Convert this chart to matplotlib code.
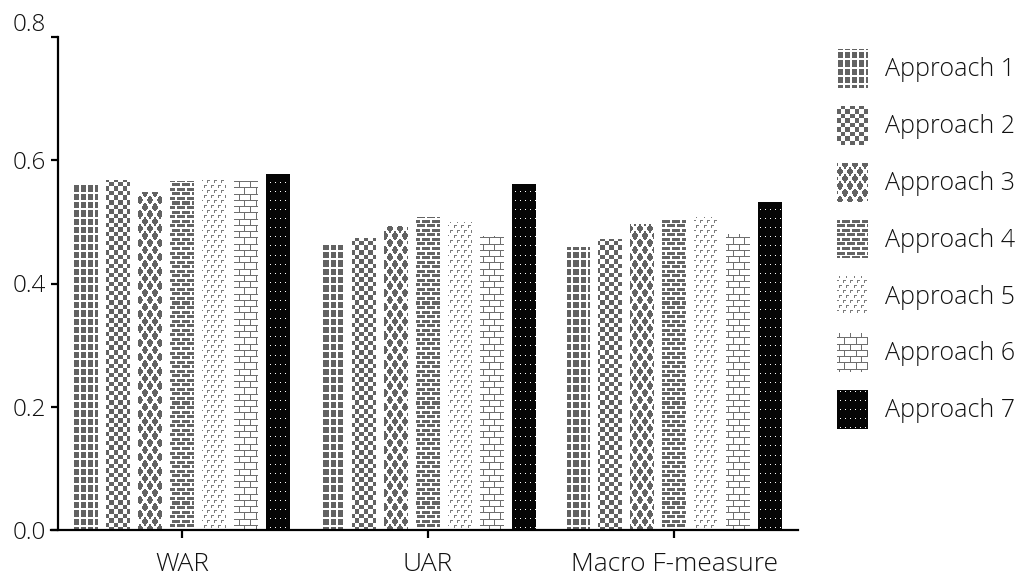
import numpy as np
import matplotlib
matplotlib.use("Agg")
import matplotlib.pyplot as plt
import matplotlib.hatch as mhatch
from matplotlib.path import Path

# data
metrics = ["WAR", "UAR", "Macro F-measure"]
approaches = ["Approach 1", "Approach 2", "Approach 3", "Approach 4",
              "Approach 5", "Approach 6", "Approach 7"]
war = [0.560, 0.568, 0.549, 0.566, 0.568, 0.566, 0.578]
uar = [0.463, 0.474, 0.493, 0.508, 0.500, 0.477, 0.561]
macro_f = [0.459, 0.472, 0.497, 0.506, 0.508, 0.480, 0.532]

# fill patterns: bitmap tiles of 100x100 px (one hatch unit at dpi 100)
N = 100
yy, xx = np.mgrid[0:N, 0:N] + 0.5


def tile_grid():
    return (xx % (N / 14) >= 2) & (yy % (N / 12) >= 2)


def tile_checker():
    cx = np.floor(xx / (N / 22))
    cy = np.floor(yy / (N / 22))
    return (cx + cy) % 2 == 0


def tile_diamond(r=0.7):
    X = xx / 5.0
    Y = yy / (N / 14)
    a, b = X + Y, X - Y
    da = np.abs((a + 1) % 2 - 1)
    db = np.abs((b + 1) % 2 - 1)
    return (da <= r) & (db <= r)


def tile_brick_small():
    p = N / 22
    row = np.floor(yy / p)
    v = yy % p
    u = (xx + (row % 2) * 5) % 10
    return (v >= 1.5) & (u >= 2)


def tile_steps():
    row = np.floor(yy / 5)
    v = yy % 5
    w = N / 14
    u = (xx + (row % 2) * w / 2) % w
    return ((v < 1) & (u < 3)) | ((u < 1) & (v < 3.5))


def tile_brick_outline():
    p = N / 16
    row = np.floor(yy / p)
    v = yy % p
    w = N / 9
    u = (xx + (row % 2) * w / 2) % w
    return (v < 1) | (u < 1)


def tile_dots():
    return (xx % 5 < 1) & (yy % (N / 11) < 1)


def mask_to_path(mask):
    verts, codes = [], []
    n = mask.shape[0]
    for r in range(n):
        d = np.diff(np.concatenate([[0], mask[r].astype(int), [0]]))
        starts = np.where(d == 1)[0]
        ends = np.where(d == -1)[0]
        y0, y1 = 1 - (r + 1) / n, 1 - r / n
        for s, e in zip(starts, ends):
            x0, x1 = s / n, e / n
            verts += [(x0, y0), (x1, y0), (x1, y1), (x0, y1), (x0, y0)]
            codes += [Path.MOVETO, Path.LINETO, Path.LINETO, Path.LINETO,
                      Path.CLOSEPOLY]
    return Path(verts, codes)


hatch_keys = ["+", "x", "X", "-", "/", "|", "."]
tiles = [tile_grid(), tile_checker(), tile_diamond(), tile_brick_small(),
         tile_steps(), tile_brick_outline(), tile_dots()]
face_colors = ["white", "white", "white", "white", "white", "white", "#050505"]
pattern_colors = ["#626262", "#626262", "#626262", "#646464",
                  "#7c7c7c", "#6e6e6e", "white"]

_paths = {k: mask_to_path(t) for k, t in zip(hatch_keys, tiles)}


def tile_hatch_path(hatchpattern, density=6):
    return _paths[hatchpattern]


# use the bitmap tiles instead of the built-in hatches
mhatch.get_path = tile_hatch_path

plt.rcParams["hatch.linewidth"] = 0.0
plt.rcParams["font.family"] = ["Open Sans", "DejaVu Sans"]
plt.rcParams["font.weight"] = "light"
plt.rcParams["text.color"] = "#111111"

W, H = 1021, 576
fig = plt.figure(figsize=(W / 100, H / 100), dpi=100)
ax = fig.add_axes([51 / W, 1 - 530 / H, (798 - 51) / W, (530 - 37) / H])

x = np.arange(len(metrics))
step = 0.13
width = 0.094
for i, name in enumerate(approaches):
    heights = [war[i], uar[i], macro_f[i]]
    ax.bar(x + (i - 3) * step, heights, width, facecolor=face_colors[i],
           edgecolor=pattern_colors[i], linewidth=0, hatch=hatch_keys[i],
           label=name)

ax.set_xlim(-0.5325, 2.504)
ax.set_ylim(0, 0.8)
for s in ["top", "right"]:
    ax.spines[s].set_visible(False)
ax.spines["left"].set_position(("data", -0.504))
ax.spines["left"].set_linewidth(1.6)
ax.spines["bottom"].set_linewidth(1.6)

ax.set_xticks(x)
ax.set_xticklabels(metrics)
ax.set_yticks([0.0, 0.2, 0.4, 0.6, 0.8])
ax.set_yticklabels(["0.0", "0.2", "0.4", "0.6", "0.8"])
ax.tick_params(axis="x", length=6, width=1.6, pad=10, labelsize=19,
               labelcolor="#111111")
ax.tick_params(axis="y", length=5, width=1.6, pad=4, labelsize=17.5,
               labelcolor="#111111")
ax.get_yticklabels()[-1].set_va("bottom")

fig.legend(loc="upper left", bbox_to_anchor=(837 / W, 1 - 49 / H),
           frameon=False, fontsize=18, handlelength=1.24, handleheight=2.025,
           handletextpad=0.68, labelspacing=0.71, borderpad=0,
           borderaxespad=0)

fig.savefig("out.png", dpi=100)
